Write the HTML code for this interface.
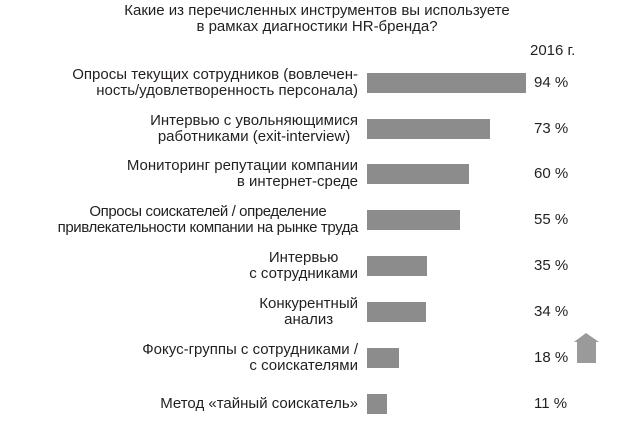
<!DOCTYPE html><html><head><meta charset="utf-8"><style>
body{margin:0;width:624px;height:422px;background:#fff;font-family:"Liberation Sans",sans-serif;color:#231f20;position:relative;overflow:hidden}
.t{position:absolute;left:0;width:634px;text-align:center;font-size:15px;line-height:16px;top:3px}
.l{position:absolute;right:266px;text-align:right;font-size:15px;line-height:16px;white-space:nowrap}
.c{text-align:center}
.b{position:absolute;left:367px;height:20px;background:#8c8c8c}
.v{position:absolute;left:534px;font-size:15px;line-height:16px}
</style></head><body>
<div class="t">Какие из перечисленных инструментов вы используете<br>в рамках диагностики HR-бренда?</div>
<div class="v" style="left:530px;top:43px">2016 г.</div>
<div class="l" style="top:67px">Опросы текущих сотрудников (вовлечен-<br>ность/удовлетворенность персонала)</div>
<div class="b" style="top:73px;width:159px"></div><div class="v" style="top:75px">94 %</div>
<div class="l c" style="top:113px">Интервью с увольняющимися<br>работниками (exit-interview)</div>
<div class="b" style="top:119px;width:123px"></div><div class="v" style="top:121px">73 %</div>
<div class="l" style="top:158px">Мониторинг репутации компании<br>в интернет-среде</div>
<div class="b" style="top:164px;width:102px"></div><div class="v" style="top:166px">60 %</div>
<div class="l c" style="top:204px;letter-spacing:-0.4px">Опросы соискателей / определение<br>привлекательности компании на рынке труда</div>
<div class="b" style="top:210px;width:93px"></div><div class="v" style="top:212px">55 %</div>
<div class="l c" style="top:250px">Интервью<br>с сотрудниками</div>
<div class="b" style="top:256px;width:60px"></div><div class="v" style="top:258px">35 %</div>
<div class="l c" style="top:296px">Конкурентный<br>анализ</div>
<div class="b" style="top:302px;width:59px"></div><div class="v" style="top:304px">34 %</div>
<div class="l" style="top:342px">Фокус-группы с сотрудниками /<br>с соискателями</div>
<div class="b" style="top:348px;width:32px"></div><div class="v" style="top:350px">18 %</div>
<div class="l" style="top:396px">Метод «тайный соискатель»</div>
<div class="b" style="top:394px;width:20px"></div><div class="v" style="top:396px">11 %</div>
<svg style="position:absolute;left:0;top:0" width="624" height="422"><polygon points="586,333 599,342 596,342 596,363 577,363 577,342 574,342" fill="#9a9a9a"/></svg>
</body></html>
